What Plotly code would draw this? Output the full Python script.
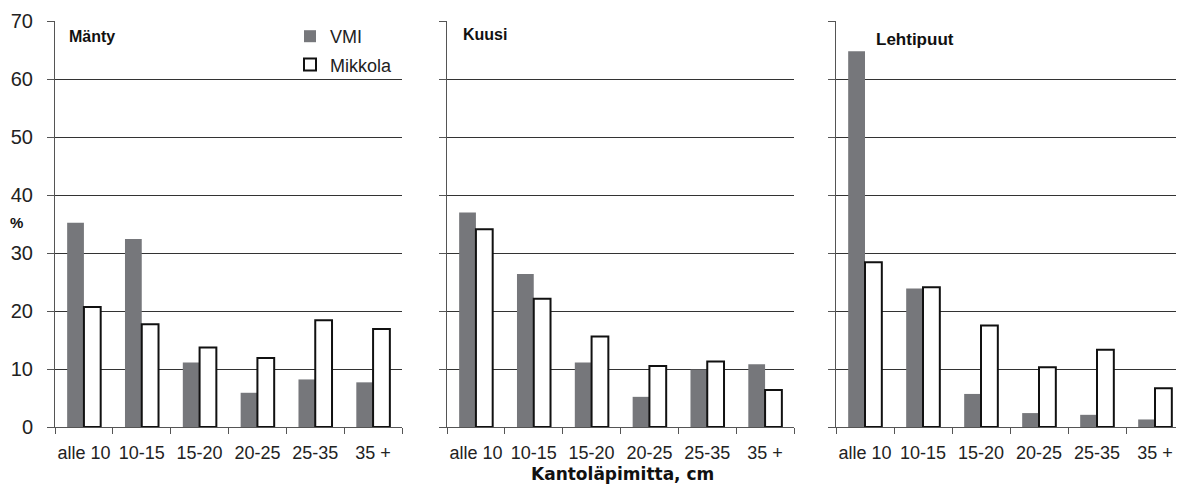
import plotly.graph_objects as go

categories = ["alle 10", "10-15", "15-20", "20-25", "25-35", "35 +"]
panel_titles = ["Mänty", "Kuusi", "Lehtipuut"]
vmi_manty = [35.2, 32.4, 11.1, 5.9, 8.2, 7.7]
mikkola_manty = [20.7, 17.7, 13.7, 11.9, 18.4, 16.9]
vmi_kuusi = [37.0, 26.4, 11.1, 5.2, 9.9, 10.8]
mikkola_kuusi = [34.1, 22.1, 15.6, 10.5, 11.3, 6.4]
vmi_lehti = [64.8, 23.9, 5.7, 2.4, 2.1, 1.3]
mikkola_lehti = [28.4, 24.1, 17.5, 10.3, 13.3, 6.7]
y_ticks = [0, 10, 20, 30, 40, 50, 60, 70]

FONT = "Liberation Sans, Arial, sans-serif"
BOLD_WIDE = "DejaVu Sans, Liberation Sans, sans-serif"
GRAY = "#76777b"

OFF = 8  # page body margin
W, H = 1184 - OFF, 484 - OFF
ML, MT = 55 - OFF, 21 - OFF
MR = 0
MB = H - (427 - OFF)
pw = W - ML - MR
ph = H - MT - MB
panels_px = [(55, 402), (447, 794), (836, 1184)]
domains = [((a - 55) / pw, min(1.0, (b - 55) / pw)) for a, b in panels_px]


def px_x(px):
    return (px - 55) / pw


def px_y(py):
    return 1 - (py - 21) / ph


fig = go.Figure()
data = [(vmi_manty, mikkola_manty), (vmi_kuusi, mikkola_kuusi), (vmi_lehti, mikkola_lehti)]
for i, (v, m) in enumerate(data):
    xa = "x" if i == 0 else f"x{i+1}"
    ya = "y" if i == 0 else f"y{i+1}"
    fig.add_trace(go.Bar(x=categories, y=v, name="VMI", xaxis=xa, yaxis=ya,
                         marker=dict(color=GRAY, line=dict(width=0)),
                         showlegend=(i == 0), legendgroup="vmi"))
    fig.add_trace(go.Bar(x=categories, y=m, name="Mikkola", xaxis=xa, yaxis=ya,
                         marker=dict(color="white", line=dict(color="#111", width=2)),
                         showlegend=(i == 0), legendgroup="mik"))

layout = dict(
    width=W, height=H,
    margin=dict(l=ML, r=MR, t=MT, b=MB),
    paper_bgcolor="white", plot_bgcolor="white",
    barmode="group", bargap=0.42, bargroupgap=0.0,
    font=dict(family=FONT, size=17, color="#222"),
    legend=dict(x=px_x(290), y=px_y(18), xanchor="left", yanchor="top",
                bgcolor="rgba(0,0,0,0)", font=dict(size=18, color="#222"),
                tracegroupgap=2, itemwidth=30),
)
for i, (d0, d1) in enumerate(domains):
    xk = "xaxis" if i == 0 else f"xaxis{i+1}"
    yk = "yaxis" if i == 0 else f"yaxis{i+1}"
    layout[xk] = dict(domain=[d0, d1], anchor="y" if i == 0 else f"y{i+1}",
                      type="category", showline=True, linecolor="#555", linewidth=1,
                      ticks="outside", tickson="boundaries", ticklen=6, tickcolor="#555",
                      showgrid=False, tickangle=0, automargin=False,
                      ticklabelstandoff=9,
                      tickfont=dict(size=18, color="#222"),
                      fixedrange=True)
    layout[yk] = dict(domain=[0, 1], anchor="x" if i == 0 else f"x{i+1}",
                      range=[0, 70], tickvals=y_ticks, showticklabels=(i == 0),
                      showline=True, linecolor="#555", linewidth=1,
                      ticks="outside", ticklen=7, tickcolor="#555",
                      ticklabelstandoff=10,
                      showgrid=True, gridcolor="#333", gridwidth=1, automargin=False,
                      zeroline=False, tickfont=dict(size=20, color="#222"))
fig.update_layout(**layout)

title_pos = [(67, 36), (461, 34), (874, 39)]
for (px, py), t in zip(title_pos, panel_titles):
    fig.add_annotation(text=f"<b>{t}</b>", xref="paper", yref="paper",
                       x=px_x(px), y=px_y(py),
                       xanchor="left", yanchor="middle", showarrow=False,
                       font=dict(size=16 if t != "Lehtipuut" else 17, color="#111", family=FONT))

fig.add_annotation(text="<b>%</b>", xref="paper", yref="paper",
                   x=px_x(16), y=px_y(223),
                   xanchor="center", yanchor="middle", showarrow=False,
                   font=dict(size=15, color="#111", family=FONT))
fig.add_annotation(text="<b>Kantoläpimitta, cm</b>", xref="paper", yref="paper",
                   x=px_x(622), y=px_y(474),
                   xanchor="center", yanchor="middle", showarrow=False,
                   font=dict(size=17, color="#111", family=BOLD_WIDE))

fig.write_html("out.html")
